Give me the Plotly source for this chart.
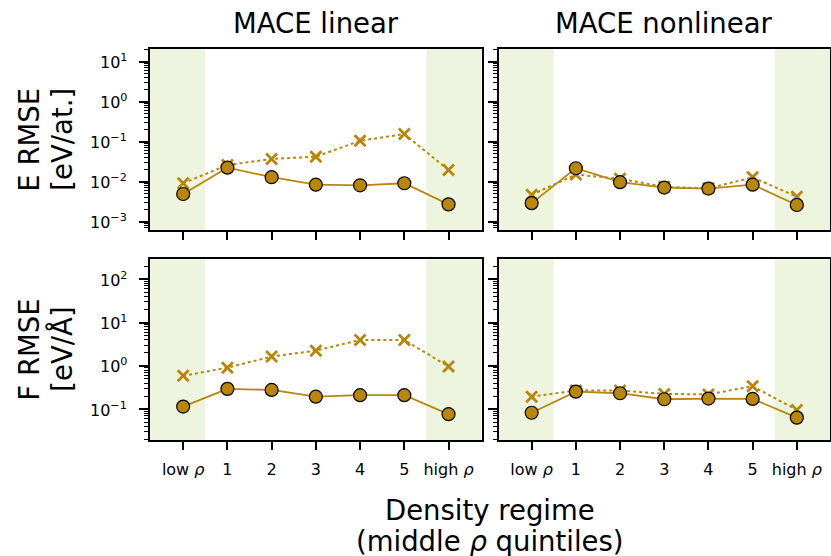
import math
import plotly.graph_objects as go

# Density regimes along the x axis
regimes = ["low <i>ρ</i>", "1", "2", "3", "4", "5", "high <i>ρ</i>"]
models = ["MACE linear", "MACE nonlinear"]

# Energy RMSE [eV/at.]: circles (solid) and crosses (dotted)
e_lin_circle = [0.0049, 0.0224, 0.0129, 0.0084, 0.0081, 0.0091, 0.0027]
e_lin_cross = [0.0091, 0.026, 0.037, 0.042, 0.105, 0.155, 0.0195]
e_nl_circle = [0.0029, 0.0216, 0.0097, 0.0071, 0.0067, 0.0084, 0.0026]
e_nl_cross = [0.0047, 0.015, 0.0118, 0.0074, 0.0068, 0.0128, 0.0042]

# Force RMSE [eV/Å]
f_lin_circle = [0.115, 0.295, 0.279, 0.195, 0.211, 0.211, 0.077]
f_lin_cross = [0.59, 0.91, 1.64, 2.25, 3.98, 3.95, 0.97]
f_nl_circle = [0.083, 0.255, 0.234, 0.170, 0.176, 0.173, 0.064]
f_nl_cross = [0.195, 0.27, 0.27, 0.226, 0.22, 0.34, 0.096]

# Decade exponents used as major ticks on the log axes
e_ticks = [-3, -2, -1, 0, 1]
f_ticks = [-1, 0, 1, 2]

GOLD = "#B8860B"
BAND = "#eef5df"
FONT = "DejaVu Sans"
BIG = 27.5
SMALL = 16
W, H = 831, 556

x_idx = list(range(len(regimes)))
x_range = [-0.75, len(regimes) - 1 + 0.75]

panels = [
    # (row, col, circles, crosses)
    (1, 1, e_lin_circle, e_lin_cross),
    (1, 2, e_nl_circle, e_nl_cross),
    (2, 1, f_lin_circle, f_lin_cross),
    (2, 2, f_nl_circle, f_nl_cross),
]

col_dom = {1: [150 / W, 481.7 / W], 2: [498.5 / W, 830 / W]}
row_dom = {1: [(H - 230) / H, (H - 49.3) / H], 2: [(H - 440) / H, (H - 259.3) / H]}
y_ranges = {1: [-3.21, 1.31], 2: [-1.71, 2.46]}
y_ticks = {1: e_ticks, 2: f_ticks}


def minor_vals(lo, hi):
    # 2..9 x 10^p for every decade inside the axis range
    vals = []
    for p in range(math.floor(lo), math.ceil(hi) + 1):
        vals += [m * 10.0 ** p for m in range(2, 10)
                 if lo <= p + math.log10(m) <= hi]
    return vals


def power_label(p):
    return f"10<sup>{'−' if p < 0 else ''}{abs(p)}</sup>"


fig = go.Figure()
layout = {}
shapes = []
annotations = []

for i, (row, col, circ, cross) in enumerate(panels):
    n = i + 1
    xa = "x" if n == 1 else f"x{n}"
    ya = "y" if n == 1 else f"y{n}"
    ya_minor = f"y{n + 4}"
    # crosses on the main axis, circles on the companion axis (same scale)
    fig.add_trace(go.Scatter(
        x=x_idx, y=cross, xaxis=xa, yaxis=ya, mode="lines+markers",
        line=dict(color=GOLD, width=2, dash="dot"),
        marker=dict(symbol="x-thin", size=11, color=GOLD,
                    line=dict(color=GOLD, width=2.8)),
        showlegend=False, cliponaxis=False,
    ))
    fig.add_trace(go.Scatter(
        x=x_idx, y=circ, xaxis=xa, yaxis=ya_minor, mode="lines+markers",
        line=dict(color=GOLD, width=1.8),
        marker=dict(symbol="circle", size=13, color=GOLD,
                    line=dict(color="black", width=1.2)),
        showlegend=False, cliponaxis=False,
    ))

    ticks = y_ticks[row]
    layout["xaxis" if n == 1 else f"xaxis{n}"] = dict(
        domain=col_dom[col], anchor=ya, range=x_range,
        tickmode="array", tickvals=x_idx,
        ticktext=regimes if row == 2 else [""] * len(regimes),
        showticklabels=(row == 2), ticklabelstandoff=6,
        ticks="outside", ticklen=8, tickwidth=1.6, tickcolor="black",
        showline=True, linecolor="black", linewidth=1.8, mirror=True,
        showgrid=False, zeroline=False,
        tickfont=dict(family=FONT, size=SMALL, color="black"),
    )
    layout["yaxis" if n == 1 else f"yaxis{n}"] = dict(
        domain=row_dom[row], anchor=xa, type="log", range=y_ranges[row],
        tickmode="array", tickvals=[10.0 ** p for p in ticks],
        showticklabels=False,
        ticks="outside", ticklen=9, tickwidth=1.8, tickcolor="black",
        showline=True, linecolor="black", linewidth=1.8, mirror=True,
        showgrid=False, zeroline=False,
    )
    # companion axis carrying the minor (2..9) log ticks
    layout[f"yaxis{n + 4}"] = dict(
        overlaying=ya, anchor=xa, side="left", type="log",
        range=y_ranges[row], tickmode="array",
        tickvals=minor_vals(*y_ranges[row]),
        ticks="outside", ticklen=5, tickwidth=1.2, tickcolor="black",
        showticklabels=False, showline=False, showgrid=False, zeroline=False,
    )

    # decade labels beside the left-hand panels (log axis -> exponent units)
    if col == 1:
        for p in ticks:
            annotations.append(dict(
                text=power_label(p), x=129 / W, y=p, xref="paper", yref=ya,
                xanchor="right", yanchor="middle", showarrow=False,
                font=dict(family=FONT, size=SMALL, color="black"),
            ))

    # shaded bands over the edge regimes (low and high density)
    lo_edge = x_idx[0] + 0.5
    hi_edge = x_idx[-1] - 0.5
    for x0, x1 in [(x_range[0], lo_edge), (hi_edge, x_range[1])]:
        shapes.append(dict(type="rect", xref=xa, yref=f"{ya} domain",
                           x0=x0, x1=x1, y0=0, y1=1, fillcolor=BAND,
                           line=dict(width=0), layer="below"))


def text(s, x, y, angle=0):
    return dict(text=s, x=x / W, y=(H - y) / H, xref="paper", yref="paper",
                showarrow=False, textangle=angle,
                xanchor="center", yanchor="middle",
                font=dict(family=FONT, size=BIG, color="black"))


for col, name in zip([1, 2], models):
    annotations.append(text(name, sum(col_dom[col]) / 2 * W, 23))

for row, lines in [(1, ["E RMSE", "[eV/at.]"]), (2, ["F RMSE", "[eV/Å]"])]:
    yc = H - sum(row_dom[row]) / 2 * H
    annotations.append(text(lines[0], 29, yc, -90))
    annotations.append(text(lines[1], 62, yc, -90))

xc = (col_dom[1][0] + col_dom[2][1]) / 2 * W
annotations.append(text("Density regime", xc, 510))
annotations.append(text("(middle <i>ρ</i> quintiles)", xc, 541))

fig.update_layout(
    width=W, height=H,
    margin=dict(l=0, r=0, t=0, b=0),
    plot_bgcolor="white", paper_bgcolor="white",
    shapes=shapes, annotations=annotations,
    **layout,
)

fig.write_html("out.html")
